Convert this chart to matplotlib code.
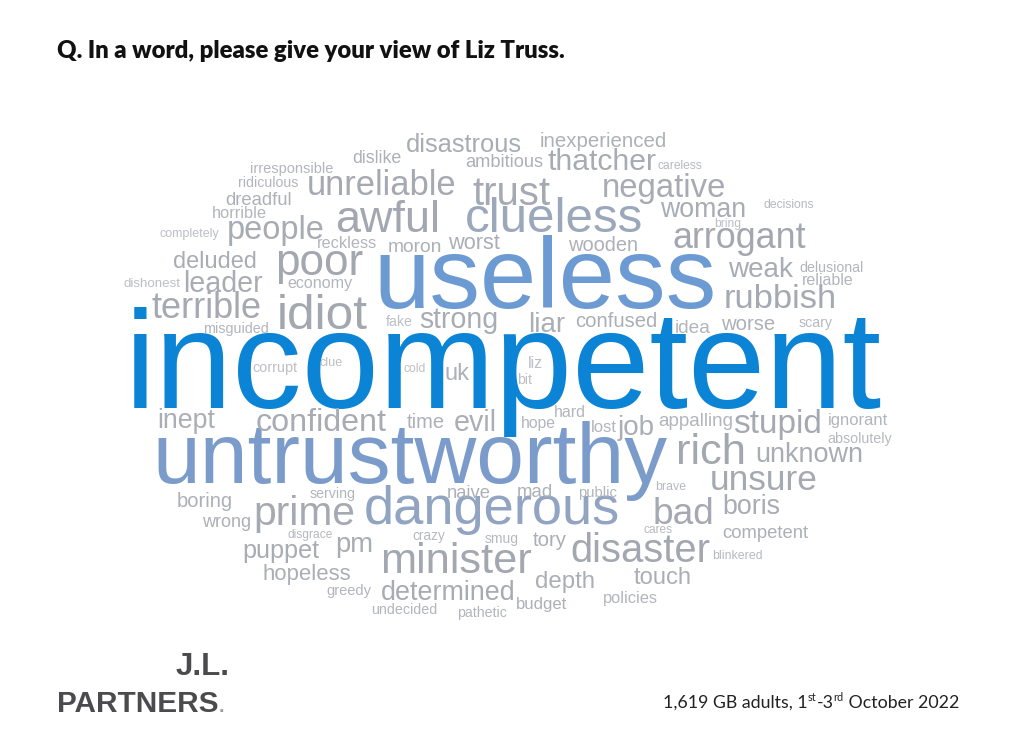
import matplotlib.pyplot as plt
from matplotlib.colors import LinearSegmentedColormap

# Word cloud data: words and their (estimated) relative frequency
words = [
    'incompetent',
    'useless',
    'untrustworthy',
    'dangerous',
    'clueless',
    'minister', 'awful', 'poor', 'idiot', 'disaster', 'rich', 'arrogant',
    'trust', 'prime', 'unreliable', 'terrible', 'rubbish', 'stupid', 'unsure', 'bad',
    'negative', 'confident', 'people', 'determined', 'thatcher',
    'disastrous', 'unknown', 'woman', 'leader', 'deluded', 'weak', 'boris', 'strong', 'puppet', 'pm',
    'evil', 'job', 'hopeless', 'depth', 'touch', 'worst', 'inept', 'liar', 'confused', 'tory',
    'competent', 'worse', 'moron', 'wooden', 'dreadful', 'boring', 'uk', 'time', 'wrong', 'budget',
    'naive', 'mad', 'dislike', 'ambitious', 'inexperienced',
    'horrible', 'appalling', 'policies', 'economy', 'reckless', 'ignorant', 'delusional', 'reliable',
    'idea', 'hope', 'lost', 'hard', 'public', 'serving', 'greedy', 'undecided', 'pathetic',
    'irresponsible', 'ridiculous', 'misguided',
    'smug', 'crazy', 'disgrace', 'absolutely', 'scary', 'brave', 'cares', 'careless', 'blinkered', 'decisions',
    'bring', 'completely', 'dishonest', 'corrupt', 'clue', 'cold', 'liz', 'bit', 'fake',
]
counts = (
    [100]
    + [48]
    + [42]
    + [30]
    + [27]
    + [22] * 7
    + [19] * 8
    + [16] * 5
    + [14] * 10
    + [12] * 10
    + [10] * 15
    + [8] * 20
    + [6] * 10
    + [4] * 9
)

title = 'Q. In a word, please give your view of Liz Truss.'
note_parts = ['1,619 GB adults, 1', 'st', '-3', 'rd', ' October 2022']

# Layout: left edge, right edge, baseline (pixels from top)
layout = {
    'incompetent': (125, 882, 408), 'useless': (373, 716, 308),
    'untrustworthy': (152, 667, 483), 'dangerous': (364, 621, 524),
    'clueless': (465, 643, 232), 'minister': (380, 532, 573),
    'awful': (335, 440, 232), 'poor': (275, 363, 275), 'idiot': (277, 368, 329),
    'disaster': (570, 710, 562), 'rich': (676, 746, 464), 'arrogant': (673, 807, 248),
    'trust': (472, 550, 205), 'prime': (253, 355, 525), 'unreliable': (307, 457, 195),
    'terrible': (152, 262, 318), 'rubbish': (724, 837, 308), 'stupid': (733, 822, 433),
    'unsure': (710, 818, 490), 'bad': (653, 715, 524), 'negative': (602, 726, 197),
    'confident': (256, 387, 431), 'people': (227, 325, 239), 'determined': (381, 516, 600),
    'thatcher': (548, 657, 170), 'disastrous': (406, 522, 152), 'unknown': (755, 863, 462),
    'woman': (660, 746, 217), 'leader': (183, 263, 292), 'deluded': (173, 257, 268),
    'weak': (728, 793, 277), 'boris': (722, 780, 514), 'strong': (419, 498, 328),
    'puppet': (242, 319, 558), 'pm': (335, 373, 552), 'evil': (454, 497, 431),
    'job': (618, 655, 435), 'hopeless': (263, 351, 580), 'depth': (535, 595, 588),
    'touch': (634, 692, 584), 'worst': (448, 500, 249), 'inept': (157, 215, 428),
    'liar': (528, 565, 332), 'confused': (575, 657, 327), 'tory': (533, 567, 546),
    'competent': (722, 808, 538), 'worse': (721, 775, 330), 'moron': (388, 443, 252),
    'wooden': (568, 638, 251), 'dreadful': (225, 292, 205), 'boring': (177, 233, 507),
    'uk': (445, 470, 380), 'time': (407, 445, 428), 'wrong': (202, 251, 527),
    'budget': (516, 567, 609), 'naive': (447, 491, 498), 'mad': (517, 553, 497),
    'dislike': (352, 402, 163), 'ambitious': (465, 543, 167), 'inexperienced': (540, 667, 147),
    'horrible': (212, 267, 218), 'appalling': (658, 733, 426), 'policies': (603, 658, 603),
    'economy': (287, 352, 288), 'reckless': (317, 377, 248), 'ignorant': (828, 888, 425),
    'delusional': (799, 863, 272), 'reliable': (802, 854, 285), 'idea': (675, 711, 333),
    'hope': (521, 556, 428), 'lost': (591, 617, 432), 'hard': (554, 586, 417),
    'public': (578, 617, 497), 'serving': (310, 356, 498), 'greedy': (326, 371, 595),
    'undecided': (371, 437, 614), 'pathetic': (457, 507, 617),
    'irresponsible': (250, 333, 173), 'ridiculous': (238, 298, 187), 'misguided': (203, 269, 333),
    'smug': (485, 519, 543), 'crazy': (412, 445, 540), 'disgrace': (288, 334, 538),
    'absolutely': (827, 892, 443), 'scary': (799, 833, 327), 'brave': (655, 686, 490),
    'cares': (644, 673, 533), 'careless': (658, 703, 169), 'blinkered': (712, 763, 559),
    'decisions': (763, 814, 208), 'bring': (714, 741, 227), 'completely': (160, 220, 237),
    'dishonest': (123, 180, 287), 'corrupt': (252, 297, 372), 'clue': (320, 343, 366),
    'cold': (404, 426, 372), 'liz': (528, 543, 368), 'bit': (517, 532, 384),
    'fake': (386, 413, 326),
}

W, H = 1028, 750
fig = plt.figure(figsize=(W / 100, H / 100), dpi=100)
ax = fig.add_axes([0, 0, 1, 1])
ax.set_xlim(0, W)
ax.set_ylim(H, 0)
ax.axis('off')
renderer = fig.canvas.get_renderer()

cmap = LinearSegmentedColormap.from_list('cloud', [
    (0.0, '#c3c5ca'), (0.04, '#bcbfc5'), (0.06, '#b6b9bf'), (0.10, '#adb0b7'),
    (0.14, '#a8acb4'), (0.22, '#a3a7b0'), (0.27, '#9ba7ba'), (0.30, '#90a4c3'),
    (0.42, '#7b9ccb'), (0.48, '#6c9ad2'), (1.0, '#0b84d6'),
])
top = max(counts)


def fit_width(txt, target):
    # scale the font so the rendered text spans the target width
    for _ in range(2):
        w = txt.get_window_extent(renderer).width
        txt.set_fontsize(txt.get_fontsize() * target / w)


for word, n in zip(words, counts):
    x0, x1, yb = layout[word]
    t = ax.text(x0, yb, word, fontsize=20, family='Liberation Sans',
                color=cmap(n / top), ha='left', va='baseline')
    fit_width(t, x1 - x0)

# Title
t = ax.text(57, 58, title, fontsize=14, family='Lato', fontweight='heavy',
            color='#111111', ha='left', va='baseline')
fit_width(t, 563 - 57)

# Logo
t = ax.text(176, 675, 'J.L.', fontsize=18, family='Liberation Sans', fontweight='bold',
            color='#4b4b4d', ha='left', va='baseline')
fit_width(t, 230 - 176)
t = ax.text(57, 712, 'PARTNERS', fontsize=24, family='Liberation Sans', fontweight='bold',
            color='#4b4b4d', ha='left', va='baseline')
fit_width(t, 218 - 57)
ax.text(219, 712, '.', fontsize=14, family='Liberation Sans', fontweight='bold',
        color='#9a9a9c', ha='left', va='baseline')


# Sample note with superscripts, laid out piece by piece
def draw_note(size):
    x = 663
    pieces = []
    for i, part in enumerate(note_parts):
        sup = i in (1, 3)
        fs = size * 0.62 if sup else size
        y = 708 - size * 0.55 if sup else 708
        t = ax.text(x, y, part, fontsize=fs, family='Lato', color='#222222',
                    ha='left', va='baseline')
        w = t.get_window_extent(renderer).width
        pieces.append(t)
        x += w
    return x - 663, pieces


width, pieces = draw_note(12.5)
for p in pieces:
    p.remove()
size = 12.5 * (958 - 663) / width
draw_note(size)

plt.savefig('out.png', dpi=100, facecolor='white')
